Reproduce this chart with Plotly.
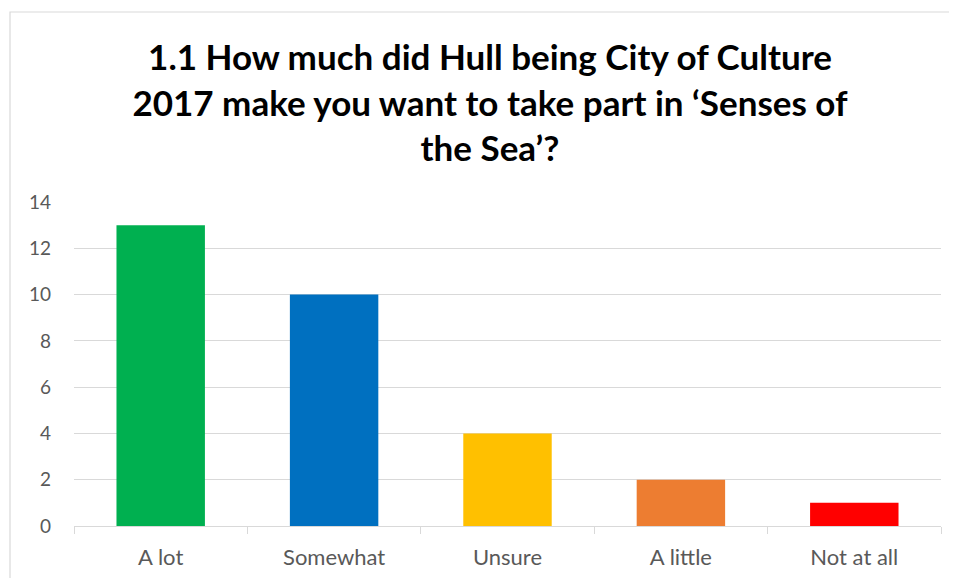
import plotly.graph_objects as go

categories = ["A lot", "Somewhat", "Unsure", "A little", "Not at all"]
values = [13, 10, 4, 2, 1]
colors = ["#00B050", "#0070C0", "#FFC000", "#ED7D31", "#FF0000"]
y_ticks = [0, 2, 4, 6, 8, 10, 12, 14]
title_text = "1.1 How much did Hull being City of Culture<br>2017 make you want to take part in ‘Senses of<br>the Sea’?"

# the page body adds an 8px offset; figure pixel = window pixel - 8
OFF = 8
W, H = 957, 578
ml, mt = 74 - OFF, 202 - OFF
plot_right, plot_bottom = 941 - OFF, 526 - OFF
mr, mb = W - plot_right, H - plot_bottom
pw, ph = plot_right - ml, plot_bottom - mt

fig = go.Figure(go.Bar(x=categories, y=values, marker=dict(color=colors, line=dict(width=0)), width=0.51))

def px_x(p):
    return (p - OFF - ml) / pw

def px_y(p):
    return (plot_bottom - (p - OFF)) / ph

fig.update_layout(
    width=W, height=H,
    margin=dict(l=ml, r=mr, t=mt, b=mb),
    paper_bgcolor="white", plot_bgcolor="white",
    showlegend=False,
    font=dict(family="Lato, Open Sans, sans-serif", color="#595959", size=19),
    title=dict(text=title_text, x=(490 - OFF) / W, xanchor="center", xref="container",
               y=1 - 62 / H, yanchor="top", yref="container",
               font=dict(family="Lato, sans-serif", size=35, color="#000000", weight="bold")),
    xaxis=dict(showline=True, linecolor="#D9D9D9", linewidth=1, ticks="outside", tickson="boundaries",
               ticklen=7, tickcolor="#D9D9D9", showgrid=False, ticklabelstandoff=12,
               tickfont=dict(size=22, color="#595959")),
    yaxis=dict(range=[0, 14], tickvals=y_ticks, showgrid=True, gridcolor="#D9D9D9", gridwidth=1,
               zeroline=False, showline=False, ticks="", ticklabelstandoff=22,
               tickfont=dict(size=19, color="#595959")),
    shapes=[dict(type="rect", xref="paper", yref="paper",
                 x0=px_x(10), x1=px_x(962), y0=px_y(583), y1=px_y(12),
                 line=dict(color="#D9D9D9", width=1.2), fillcolor="rgba(0,0,0,0)", layer="below")],
)

fig.write_html("out.html")
